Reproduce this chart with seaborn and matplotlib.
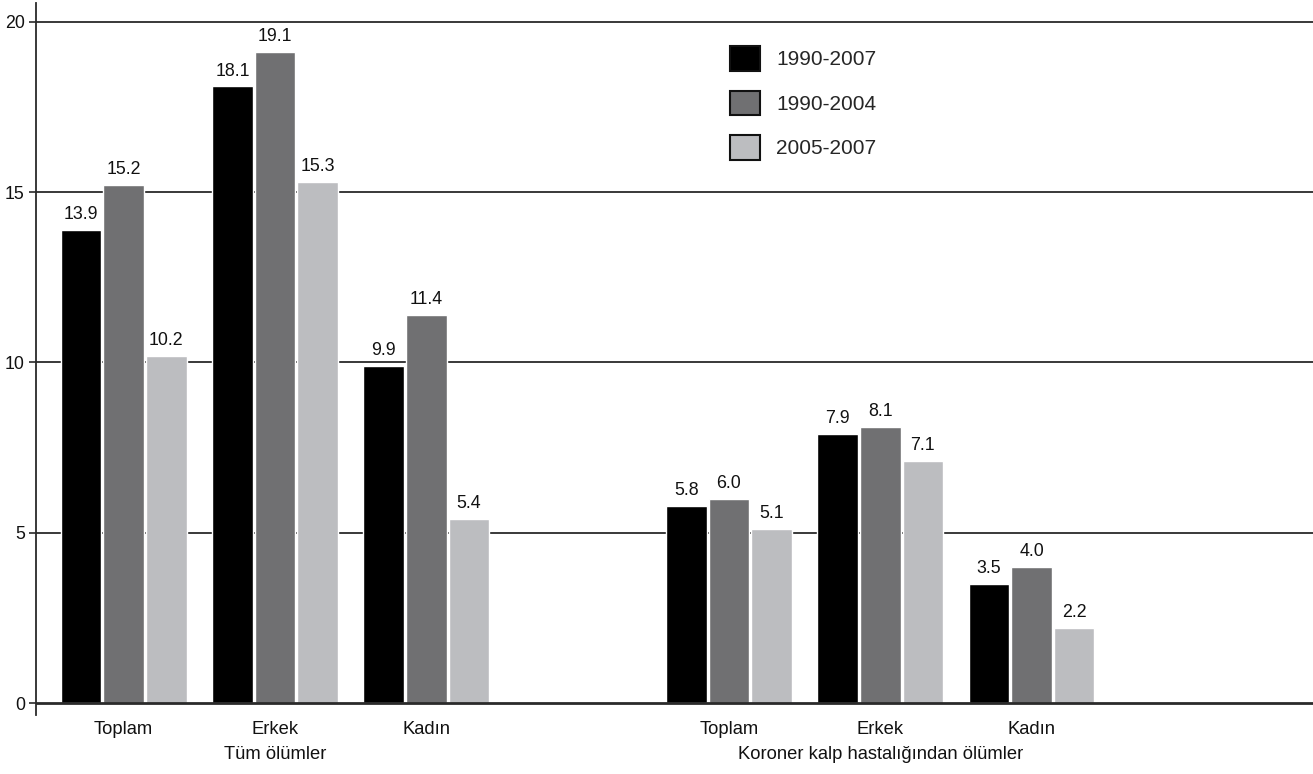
import pandas as pd
import matplotlib
matplotlib.use("Agg")
import matplotlib.pyplot as plt
from matplotlib.patches import Patch
import seaborn as sns

# ==========================
# Data
# ==========================

groups = ["Toplam", "Erkek", "Kadın", "Toplam", "Erkek", "Kadın"]
sections = ["Tüm ölümler", "Koroner kalp hastalığından ölümler"]
periods = ["1990-2007", "1990-2004", "2005-2007"]

vals_1990_2007 = [13.9, 18.1, 9.9, 5.8, 7.9, 3.5]
vals_1990_2004 = [15.2, 19.1, 11.4, 6.0, 8.1, 4.0]
vals_2005_2007 = [10.2, 15.3, 5.4, 5.1, 7.1, 2.2]

colors = ["#000000", "#707072", "#bcbdc0"]

# slot keys; an empty slot separates the two sections
slot_keys = ["a0", "a1", "a2", "b0", "b1", "b2"]
order = ["a0", "a1", "a2", "gap", "b0", "b1", "b2"]

rows = []
for period, vals in zip(periods, [vals_1990_2007, vals_1990_2004, vals_2005_2007]):
    for key, v in zip(slot_keys, vals):
        rows.append({"slot": key, "period": period, "value": v})
df = pd.DataFrame(rows)

# ==========================
# Plot
# ==========================

sns.set_theme(style="white")
plt.rcParams["font.family"] = ["Liberation Sans", "DejaVu Sans"]

fig = plt.figure(figsize=(13.13, 7.74), dpi=100)
ax = fig.add_axes([0.0274, 0.0762, 0.9726, 0.9199])

for y in [5, 10, 15, 20]:
    ax.axhline(y, color="#2a2a2a", lw=1.3, zorder=0)
ax.axhline(0, color="#2a2a2a", lw=2.0, zorder=3)

sns.barplot(
    data=df,
    x="slot",
    y="value",
    hue="period",
    order=order,
    hue_order=periods,
    palette=colors,
    width=0.845,
    gap=0.05,
    saturation=1,
    legend=False,
    ax=ax,
    zorder=2
)

for cont in ax.containers:
    ax.bar_label(cont, fmt="%.1f", padding=5, fontsize=12.8, color="#111111")

ax.set_xlim(-0.58, 7.86)
ax.set_ylim(-0.35, 20.55)

ax.set_yticks([0, 5, 10, 15, 20])
ax.set_yticklabels(["0", "5", "10", "15", "20"], fontsize=12.8, color="#111111")
ax.tick_params(axis="y", left=True, length=5, width=1.2, color="#2a2a2a", pad=3)

tick_pos = [order.index(k) for k in slot_keys]
ax.set_xticks(tick_pos)
ax.set_xticklabels(groups, fontsize=13.2, color="#111111")
ax.tick_params(axis="x", bottom=False, length=0, pad=4)

ax.set_xlabel("")
ax.set_ylabel("")

for s in ["top", "right", "bottom"]:
    ax.spines[s].set_visible(False)
ax.spines["left"].set_color("#2a2a2a")
ax.spines["left"].set_linewidth(1.3)

# section labels under the middle group
for sec, key in zip(sections, ["a1", "b1"]):
    ax.annotate(
        sec,
        xy=(order.index(key), 0),
        xycoords=("data", "axes fraction"),
        xytext=(0, -22.5),
        textcoords="offset points",
        ha="center",
        va="top",
        fontsize=13.2,
        color="#111111"
    )

handles = [
    Patch(facecolor=c, edgecolor="#111111", linewidth=1.5, label=p)
    for c, p in zip(colors, periods)
]
ax.legend(
    handles=handles,
    loc="upper left",
    bbox_to_anchor=(730 / 1313, 1 - 46 / 774),
    bbox_transform=fig.transFigure,
    frameon=False,
    fontsize=15,
    handlelength=1.44,
    handleheight=1.44,
    labelspacing=0.96,
    handletextpad=0.77,
    borderpad=0,
    borderaxespad=0
)

plt.savefig("out.png", dpi=100)
plt.close()
